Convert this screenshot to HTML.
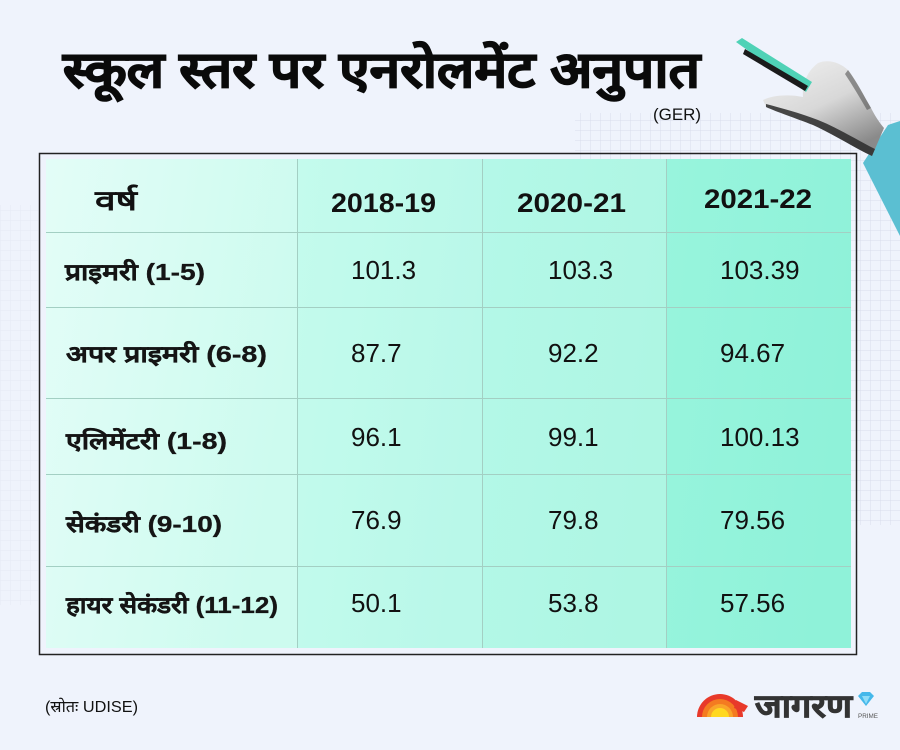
<!DOCTYPE html>
<html>
<head>
<meta charset="utf-8">
<style>
  html,body{margin:0;padding:0;background:#eff3fc;}
  body{width:900px;height:750px;overflow:hidden;}
  svg{display:block;}
  .dev{font-family:"Liberation Sans","DejaVu Sans",sans-serif;}
  .num{font-family:"Liberation Sans",sans-serif;font-size:26px;fill:#111;}
  .hd{font-family:"Liberation Sans",sans-serif;font-size:27px;font-weight:bold;fill:#111;}
  .lbl{font-family:"Liberation Sans","DejaVu Sans",sans-serif;font-size:23px;font-weight:bold;fill:#151515;stroke:#151515;stroke-width:0.3;}
</style>
</head>
<body>
<svg width="900" height="750" viewBox="0 0 900 750" xmlns="http://www.w3.org/2000/svg">
  <defs>
    <pattern id="grid" width="10" height="10" patternUnits="userSpaceOnUse">
      <path d="M10 0 L0 0 0 10" fill="none" stroke="#d6dbea" stroke-width="1"/>
    </pattern>
    <linearGradient id="c0" x1="0" y1="0" x2="1" y2="0.3">
      <stop offset="0" stop-color="#e3fdf7"/>
      <stop offset="1" stop-color="#cdfbef"/>
    </linearGradient>
    <linearGradient id="c1" x1="0" y1="0" x2="1" y2="0.3">
      <stop offset="0" stop-color="#c4fbed"/>
      <stop offset="1" stop-color="#b9f8e9"/>
    </linearGradient>
    <linearGradient id="c2" x1="0" y1="0" x2="1" y2="0.3">
      <stop offset="0" stop-color="#b4f8e8"/>
      <stop offset="1" stop-color="#aef6e3"/>
    </linearGradient>
    <linearGradient id="c3" x1="0" y1="0" x2="1" y2="0.3">
      <stop offset="0" stop-color="#98f4dd"/>
      <stop offset="1" stop-color="#8ff2d9"/>
    </linearGradient>
    <linearGradient id="hand" x1="0" y1="0" x2="0.6" y2="1">
      <stop offset="0" stop-color="#f2f2f2"/>
      <stop offset="0.55" stop-color="#d8d8d8"/>
      <stop offset="1" stop-color="#8a8a8a"/>
    </linearGradient>
  </defs>

  <rect width="900" height="750" fill="#eff3fc"/>

  <!-- background grids -->
  <rect x="575" y="113" width="325" height="412" fill="url(#grid)" opacity="0.9"/>
  <rect x="0" y="205" width="38" height="400" fill="url(#grid)" opacity="0.4"/>

  <!-- title -->
  <text x="63" y="87" class="dev" font-size="50" font-weight="bold" fill="#0a0a0a" stroke="#0a0a0a" stroke-width="1.2" textLength="637" lengthAdjust="spacingAndGlyphs">स्कूल स्तर पर एनरोलमेंट अनुपात</text>
  <text x="653" y="120" font-family="Liberation Sans, sans-serif" font-size="17" fill="#111" textLength="48" lengthAdjust="spacingAndGlyphs">(GER)</text>

  <!-- hand + pen + sleeve -->
  <polygon points="863,163 888,125 900,121 900,236" fill="#5bbfd2"/>
  <path d="M763,100 C772,95 790,94 803,97 C802,86 806,72 818,63 C828,59 840,62 849,71 C857,82 864,96 871,108 C875,116 879,122 884,128 L872,156 C853,147 833,134 813,125 C795,118 777,112 766,107 Z" fill="url(#hand)"/>
  <path d="M766,107 C777,112 795,118 813,125 C833,134 853,147 872,156 L875,149 C857,140 838,128 818,120 C800,113 781,108 766,104 Z" fill="#2a2a2a" opacity="0.85"/>
  <path d="M848,70 C857,82 864,96 871,108 L867,110 C860,98 853,86 845,74 Z" fill="#555" opacity="0.6"/>
  <!-- pen -->
  <polygon points="736,42 742,38 812,82 806,92" fill="#4fd2b6"/>
  <polygon points="745,49 808,86 805,91 743,54" fill="#1b1b1b"/>

  <!-- table cell backgrounds -->
  <rect x="46" y="159" width="251" height="489" fill="url(#c0)"/>
  <rect x="297" y="159" width="185" height="489" fill="url(#c1)"/>
  <rect x="482" y="159" width="184" height="489" fill="url(#c2)"/>
  <rect x="666" y="159" width="185" height="489" fill="url(#c3)"/>

  <!-- inner lines -->
  <g stroke="#a3cfc3" stroke-width="1">
    <line x1="46" y1="232.5" x2="851" y2="232.5"/>
    <line x1="46" y1="307.5" x2="851" y2="307.5"/>
    <line x1="46" y1="398.5" x2="851" y2="398.5"/>
    <line x1="46" y1="474.5" x2="851" y2="474.5"/>
    <line x1="46" y1="566.5" x2="851" y2="566.5"/>
    <line x1="297.5" y1="159" x2="297.5" y2="648"/>
    <line x1="482.5" y1="159" x2="482.5" y2="648"/>
    <line x1="666.5" y1="159" x2="666.5" y2="648"/>
  </g>

  <!-- outer border -->
  <rect x="39.5" y="153.5" width="817" height="501" fill="none" stroke="#222" stroke-width="1.5"/>

  <!-- header -->
  <text x="95" y="210" class="dev" font-size="28" font-weight="bold" fill="#111" textLength="42" lengthAdjust="spacingAndGlyphs">वर्ष</text>
  <text x="331" y="212" class="hd" textLength="105" lengthAdjust="spacingAndGlyphs">2018-19</text>
  <text x="517" y="212" class="hd" textLength="109" lengthAdjust="spacingAndGlyphs">2020-21</text>
  <text x="704" y="208" class="hd" textLength="108" lengthAdjust="spacingAndGlyphs">2021-22</text>

  <!-- row labels -->
  <text x="65" y="280" class="lbl" textLength="140" lengthAdjust="spacingAndGlyphs">प्राइमरी (1-5)</text>
  <text x="66" y="362" class="lbl" textLength="201" lengthAdjust="spacingAndGlyphs">अपर प्राइमरी (6-8)</text>
  <text x="66" y="449" class="lbl" textLength="161" lengthAdjust="spacingAndGlyphs">एलिमेंटरी (1-8)</text>
  <text x="66" y="532" class="lbl" textLength="156" lengthAdjust="spacingAndGlyphs">सेकंडरी (9-10)</text>
  <text x="66" y="613" class="lbl" textLength="212" lengthAdjust="spacingAndGlyphs">हायर सेकंडरी (11-12)</text>

  <!-- values -->
  <text x="351" y="279" class="num">101.3</text>
  <text x="548" y="279" class="num">103.3</text>
  <text x="720" y="279" class="num">103.39</text>

  <text x="351" y="362" class="num">87.7</text>
  <text x="548" y="362" class="num">92.2</text>
  <text x="720" y="362" class="num">94.67</text>

  <text x="351" y="446" class="num">96.1</text>
  <text x="548" y="446" class="num">99.1</text>
  <text x="720" y="446" class="num">100.13</text>

  <text x="351" y="529" class="num">76.9</text>
  <text x="548" y="529" class="num">79.8</text>
  <text x="720" y="529" class="num">79.56</text>

  <text x="351" y="612" class="num">50.1</text>
  <text x="548" y="612" class="num">53.8</text>
  <text x="720" y="612" class="num">57.56</text>

  <!-- source -->
  <text x="45" y="712" class="dev" font-size="16" fill="#111" textLength="93" lengthAdjust="spacingAndGlyphs">(स्रोतः UDISE)</text>

  <!-- logo -->
  <path d="M697,717 A23,23 0 0 1 743,717 Z" fill="#e8392a"/>
  <path d="M702,717 A18,18 0 0 1 738,717 Z" fill="#f47b21"/>
  <path d="M707,717 A13,13 0 0 1 733,717 Z" fill="#f9a52a"/>
  <path d="M711,717 A9,9 0 0 1 729,717 Z" fill="#ffd820"/>
  <polygon points="736,700 748,706 744,712 734,708" fill="#e8392a"/>
  <text x="755" y="717" class="dev" font-size="32" font-weight="bold" fill="#333" stroke="#333" stroke-width="0.8" textLength="97" lengthAdjust="spacingAndGlyphs">जागरण</text>
  <polygon points="858,696 862,692 870,692 874,696 866,706" fill="#45b8ea"/>
  <polygon points="862,696 870,696 866,704" fill="#8fdcf7"/>
  <text x="858" y="718" font-family="Liberation Sans, sans-serif" font-size="6" fill="#555" textLength="20" lengthAdjust="spacingAndGlyphs">PRIME</text>
</svg>
</body>
</html>
